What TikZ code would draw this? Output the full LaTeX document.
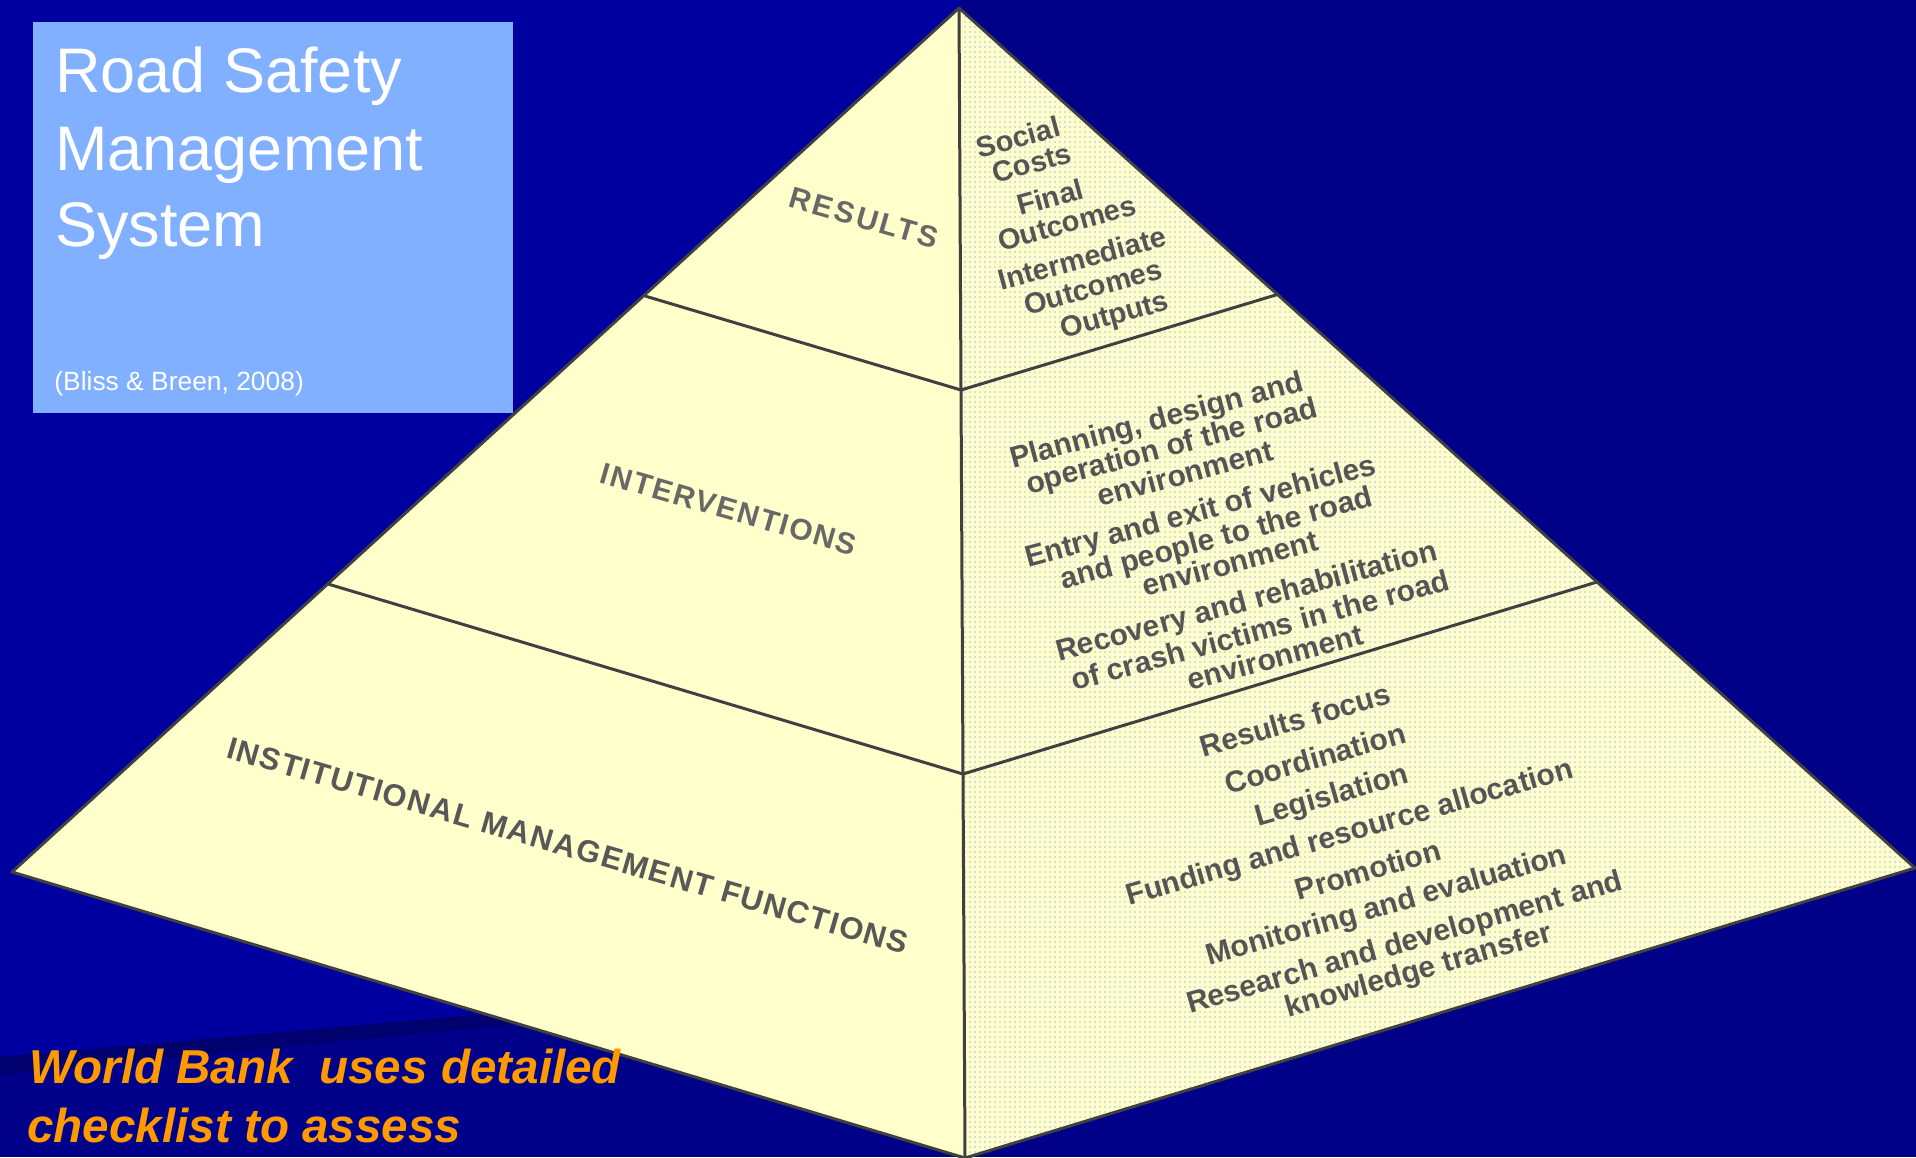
\documentclass[tikz,border=0pt]{standalone}
\usepackage{fontspec}
\setmainfont{Liberation Sans}
\newfontfamily\lsA[LetterSpace=9]{Liberation Sans}
\newfontfamily\lsB[LetterSpace=6]{Liberation Sans}
\newfontfamily\lsC[LetterSpace=5]{Liberation Sans}
\usetikzlibrary{patterns.meta}
\definecolor{bgA}{RGB}{0,0,160}
\definecolor{bgB}{RGB}{0,0,136}
\definecolor{bgS}{RGB}{0,0,110}
\definecolor{boxblue}{RGB}{128,176,255}
\definecolor{pyr}{RGB}{255,255,204}
\definecolor{edgec}{RGB}{64,64,64}
\definecolor{lbl}{RGB}{104,104,104}
\definecolor{lblb}{RGB}{88,88,88}
\definecolor{txt}{RGB}{85,85,85}
\definecolor{orng}{RGB}{255,153,0}
\definecolor{dotc}{RGB}{180,186,240}
\tikzset{
  pedge/.style={draw=edgec, line width=1.5pt, line join=round},
  titletext/.style={anchor=base west, inner sep=0pt, text=white},
  leftlabel/.style={anchor=base, inner sep=0pt},
  rtop/.style={text=txt, inner sep=0pt, rotate=15.2, font=\bfseries\fontsize{14.5}{14.5}\selectfont},
  rmid/.style={text=txt, inner sep=0pt, rotate=15, font=\bfseries\fontsize{15}{15}\selectfont},
  rbot/.style={text=txt, inner sep=0pt, rotate=16, font=\bfseries\fontsize{15}{15}\selectfont},
  wbtext/.style={anchor=base west, inner sep=0pt, text=orng, font=\bfseries\itshape\fontsize{23.8}{28}\selectfont}
}
\begin{document}
\begin{tikzpicture}[x=0.5pt,y=-0.5pt]
\useasboundingbox (0,0) rectangle (1916,1157);
% background
\fill[bgB] (0,0) rectangle (1916,1157);
\fill[bgA] (0,0) -- (960,0) -- (960,975) -- (473,1015) -- (0,1057) -- cycle;
\fill[bgS] (0,1057) -- (473,1015) -- (960,975) -- (960,988) -- (473,1028) -- (0,1075) -- cycle;
% info box
\fill[boxblue] (33,22) rectangle (513,413);
\node[titletext, font=\fontsize{31.5}{38}\selectfont] (t1) at (55,92) {Road Safety};
\node[titletext, font=\fontsize{31.5}{38}\selectfont] (t2) at (55,170) {Management};
\node[titletext, font=\fontsize{31.5}{38}\selectfont] (t3) at (55,246) {System};
\node[titletext, font=\fontsize{13.2}{16}\selectfont] (cite) at (54,390) {(Bliss \& Breen, 2008)};
% pyramid points
\coordinate (A) at (959,8);
\coordinate (L) at (12,872);
\coordinate (B) at (965,1158);
\coordinate (R) at (1915,868);
\coordinate (D1l) at (645,296);
\coordinate (D1m) at (961,390);
\coordinate (D1r) at (1279,294);
\coordinate (D2l) at (328,584);
\coordinate (D2m) at (963,774);
\coordinate (D2r) at (1597,582);
% faces
\fill[pyr] (A) -- (L) -- (B) -- cycle;
\fill[pyr] (A) -- (B) -- (R) -- cycle;
\fill[pattern={Dots[distance=2.5pt,radius=0.45pt]}, pattern color=dotc] (A) -- (B) -- (R) -- cycle;
\draw[pedge] (A) -- (L) -- (B) -- (R) -- cycle;
\draw[pedge] (A) -- (D1m) -- (D2m) -- (B);
\draw[pedge] (D1l) -- (D1m) -- (D1r);
\draw[pedge] (D2l) -- (D2m) -- (D2r);
% left face labels
\node[leftlabel, rotate=-16, text=lbl, font=\lsA\bfseries\fontsize{15}{15}\selectfont] (lres) at (861,228) {RESULTS};
\node[leftlabel, rotate=-16.1, text=lbl, font=\lsB\bfseries\fontsize{15}{15}\selectfont] (lint) at (726,519) {INTERVENTIONS};
\node[leftlabel, rotate=-16.2, text=lblb, font=\lsC\bfseries\fontsize{15.5}{15.5}\selectfont] (linst) at (565,856) {INSTITUTIONAL MANAGEMENT FUNCTIONS};
% right face: results
\node[rtop] (r1) at (1018,137) {Social};
\node[rtop] (r2) at (1032,163) {Costs};
\node[rtop] (r3) at (1050,197) {Final};
\node[rtop] (r4) at (1067,223) {Outcomes};
\node[rtop] (r5) at (1082,258) {Intermediate};
\node[rtop] (r6) at (1093,287) {Outcomes};
\node[rtop] (r7) at (1115,317) {Outputs};
% right face: interventions
\node[rmid] (m1) at (1157,422) {Planning, design and};
\node[rmid] (m2) at (1172,448) {operation of the road};
\node[rmid] (m3) at (1185,473) {environment};
\node[rmid] (m4) at (1201,513) {Entry and exit of vehicles};
\node[rmid] (m5) at (1217,540) {and people to the road};
\node[rmid] (m6) at (1230,563) {environment};
\node[rmid] (m7) at (1247,603) {Recovery and rehabilitation};
\node[rmid] (m8) at (1260,630) {of crash victims in the road};
\node[rmid] (m9) at (1275,657) {environment};
% right face: institutional functions
\node[rbot] (b1) at (1295,720) {Results focus};
\node[rbot] (b2) at (1315,758) {Coordination};
\node[rbot] (b3) at (1332,797) {Legislation};
\node[rbot] (b4) at (1350,834) {Funding and resource allocation};
\node[rbot] (b5) at (1368,870) {Promotion};
\node[rbot] (b6) at (1387,907) {Monitoring and evaluation};
\node[rbot] (b7) at (1405,944) {Research and development and};
\node[rbot] (b8) at (1419,972) {knowledge transfer};
% bottom note
\node[wbtext] (wb1) at (29,1083) {World Bank\ \ uses detailed};
\node[wbtext] (wb2) at (27,1142) {checklist to assess};
\end{tikzpicture}
\end{document}
